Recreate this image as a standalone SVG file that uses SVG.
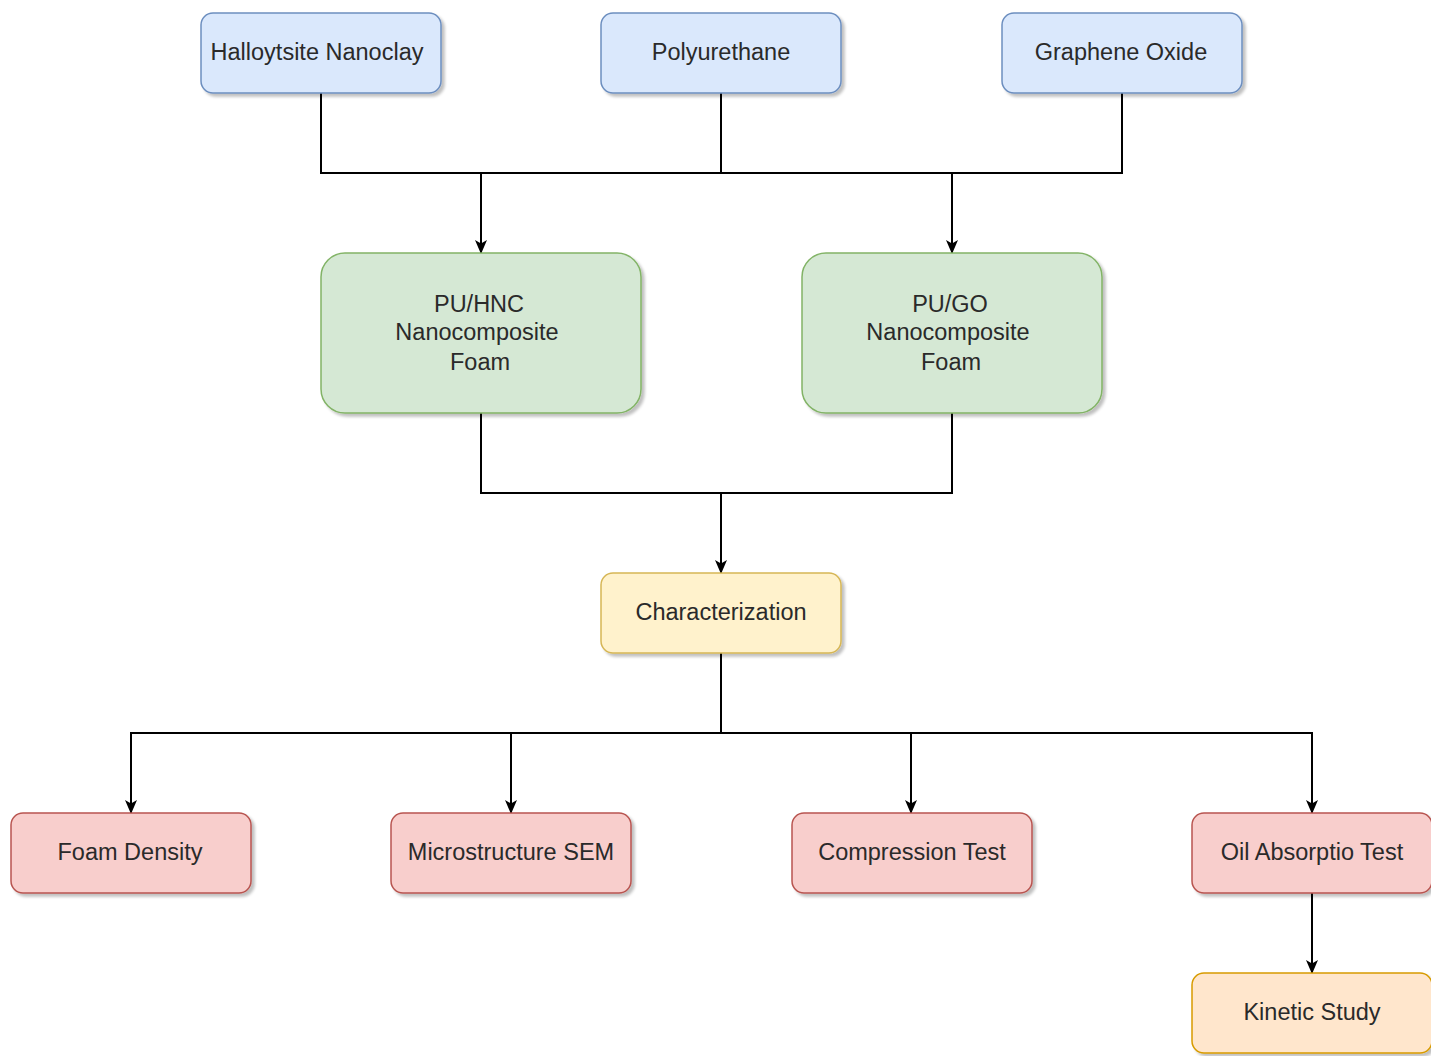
<svg xmlns="http://www.w3.org/2000/svg" width="1431" height="1056" viewBox="0 0 1431 1056">
<defs>
<filter id="sh" x="-10%" y="-10%" width="130%" height="140%">
<feGaussianBlur in="SourceAlpha" stdDeviation="1.7"/>
<feOffset dx="3" dy="3" result="b"/>
<feComponentTransfer><feFuncA type="linear" slope="0.25"/></feComponentTransfer>
<feMerge><feMergeNode/><feMergeNode in="SourceGraphic"/></feMerge>
</filter>
<marker id="arr" viewBox="0 0 14 14" refX="13" refY="7" markerWidth="14" markerHeight="14" orient="auto" markerUnits="userSpaceOnUse">
<path d="M0,1 L14,7 L0,13 L3.5,7 z" fill="#000"/>
</marker>
</defs>
<style>
.t{font-family:"Liberation Sans",Arial,sans-serif;font-size:23.5px;fill:#2a2a2a;text-anchor:middle}
.blue{fill:#dae8fc;stroke:#6c8ebf;stroke-width:1.5}
.green{fill:#d5e8d4;stroke:#82b366;stroke-width:1.5}
.yellow{fill:#fff2cc;stroke:#d6b656;stroke-width:1.5}
.red{fill:#f8cecc;stroke:#b85450;stroke-width:1.5}
.orange{fill:#ffe6cc;stroke:#d79b00;stroke-width:1.5}
.c{fill:none;stroke:#000;stroke-width:2}
</style>
<rect width="1431" height="1056" fill="#fff"/>
<g id="connectors">
<path class="c" d="M321,93 V173 H1122 V93"/>
<path class="c" d="M721,93 V173"/>
<path class="c" d="M481,173 V253" marker-end="url(#arr)"/>
<path class="c" d="M952,173 V253" marker-end="url(#arr)"/>
<path class="c" d="M481,413 V493 H952 V413"/>
<path class="c" d="M721,493 V573" marker-end="url(#arr)"/>
<path class="c" d="M721,653 V733"/>
<path class="c" d="M131,813 V733 H1312 V813" marker-end="url(#arr)"/>
<path class="c" d="M131,733 V813" marker-end="url(#arr)"/>
<path class="c" d="M511,733 V813" marker-end="url(#arr)"/>
<path class="c" d="M911,733 V813" marker-end="url(#arr)"/>
<path class="c" d="M1312,893 V973" marker-end="url(#arr)"/>
</g>
<g id="halloysite"><rect class="blue" filter="url(#sh)" x="201" y="13" width="240" height="80" rx="12"/><text class="t" x="317" y="60">Halloytsite Nanoclay</text></g>
<g id="polyurethane"><rect class="blue" filter="url(#sh)" x="601" y="13" width="240" height="80" rx="12"/><text class="t" x="721" y="60">Polyurethane</text></g>
<g id="graphene"><rect class="blue" filter="url(#sh)" x="1002" y="13" width="240" height="80" rx="12"/><text class="t" x="1121" y="60">Graphene Oxide</text></g>
<g id="puhnc"><rect class="green" filter="url(#sh)" x="321" y="253" width="320" height="160" rx="24"/><text class="t" x="479" y="312">PU/HNC</text><text class="t" x="477" y="340">Nanocomposite</text><text class="t" x="480" y="370">Foam</text></g>
<g id="pugo"><rect class="green" filter="url(#sh)" x="802" y="253" width="300" height="160" rx="24"/><text class="t" x="950" y="312">PU/GO</text><text class="t" x="948" y="340">Nanocomposite</text><text class="t" x="951" y="370">Foam</text></g>
<g id="characterization"><rect class="yellow" filter="url(#sh)" x="601" y="573" width="240" height="80" rx="12"/><text class="t" x="721" y="620">Characterization</text></g>
<g id="foamdensity"><rect class="red" filter="url(#sh)" x="11" y="813" width="240" height="80" rx="12"/><text class="t" x="130" y="860">Foam Density</text></g>
<g id="sem"><rect class="red" filter="url(#sh)" x="391" y="813" width="240" height="80" rx="12"/><text class="t" x="511" y="860">Microstructure SEM</text></g>
<g id="compression"><rect class="red" filter="url(#sh)" x="792" y="813" width="240" height="80" rx="12"/><text class="t" x="912" y="860">Compression Test</text></g>
<g id="oil"><rect class="red" filter="url(#sh)" x="1192" y="813" width="240" height="80" rx="12"/><text class="t" x="1312" y="860">Oil Absorptio Test</text></g>
<g id="kinetic"><rect class="orange" filter="url(#sh)" x="1192" y="973" width="240" height="80" rx="12"/><text class="t" x="1312" y="1020">Kinetic Study</text></g>
</svg>
